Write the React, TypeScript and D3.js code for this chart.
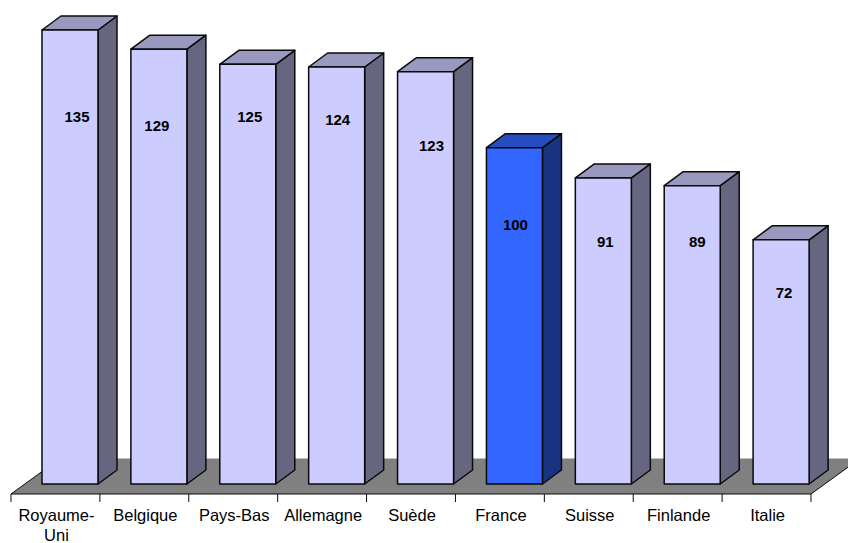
import * as d3 from 'd3';

const categories = ['Royaume-Uni', 'Belgique', 'Pays-Bas', 'Allemagne', 'Suède', 'France', 'Suisse', 'Finlande', 'Italie'];
const values = [135, 129.3, 124.8, 124, 122.6, 100, 91, 88.7, 72.6];
const valueLabels = ['135', '129', '125', '124', '123', '100', '91', '89', '72'];
// the labels were placed by hand in the original, so they sit at their own level
const labelLevels = [108.9, 106.2, 108.7, 108, 100.3, 76.7, 71.7, 71.7, 56.4];
const labelShift = [7, -2, 2, 1, 6, 1, 2, 5, 3];
const highlighted = 'France';

const width = 848;
const height = 543;
const floorFront = 494;
const floorBack = 458.5;
const base = 484;
const barWidth = 56;
const barOffset = 31;
const depthX = 19;
const depthY = 14;
const lineColor = '#0a0a0a';

const x = d3.scaleBand<string>().domain(categories).range([11, 811]);
const y = d3.scaleLinear().domain([0, 135]).range([base, 30]);

const poly = (pts: [number, number][]) => d3.line()(pts) + 'Z';

export default function App() {
  return (
    <svg
      width={width}
      height={height}
      style={{ position: 'absolute', left: 0, top: 0, fontFamily: '"Liberation Sans", Arial, sans-serif' }}
    >
      <path
        d={poly([[11, floorFront], [811, floorFront], [860, floorBack], [60, floorBack]])}
        fill="#808080"
      />
      <path d={`M60,${floorBack}L11,${floorFront}H811L860,${floorBack}`} stroke={lineColor} fill="none" />
      {[...categories.map((c) => x(c)!), 811].map((t) => (
        <line key={t} x1={t} x2={t} y1={floorFront} y2={502} stroke={lineColor} />
      ))}
      {categories.map((c, i) => {
        const left = x(c)! + barOffset;
        const right = left + barWidth;
        const top = y(values[i]);
        const hot = c === highlighted;
        return (
          <g key={c} stroke={lineColor} strokeWidth={1.5} strokeLinejoin="round">
            <path
              d={poly([[right, top], [right + depthX, top - depthY], [right + depthX, base - depthY], [right, base]])}
              fill={hot ? '#1a3380' : '#666680'}
            />
            <path
              d={poly([[left, top], [left + depthX, top - depthY], [right + depthX, top - depthY], [right, top]])}
              fill={hot ? '#264dbf' : '#9999bf'}
            />
            <rect x={left} y={top} width={barWidth} height={base - top} fill={hot ? '#3366ff' : '#ccccff'} />
          </g>
        );
      })}
      {categories.map((c, i) => (
        <text
          key={c}
          x={x(c)! + barOffset + barWidth / 2 + labelShift[i]}
          y={y(labelLevels[i])}
          textAnchor="middle"
          dominantBaseline="middle"
          fontSize={15}
          fontWeight="bold"
          fill="#000"
        >
          {valueLabels[i]}
        </text>
      ))}
      {categories.map((c) => {
        const parts = c === 'Royaume-Uni' ? ['Royaume-', 'Uni'] : [c];
        return (
          <text key={c} textAnchor="middle" fontSize={16.5} fill="#000">
            {parts.map((p, j) => (
              <tspan key={p} x={x(c)! + x.bandwidth() / 2 + 1} y={521 + j * 20}>
                {p}
              </tspan>
            ))}
          </text>
        );
      })}
    </svg>
  );
}
